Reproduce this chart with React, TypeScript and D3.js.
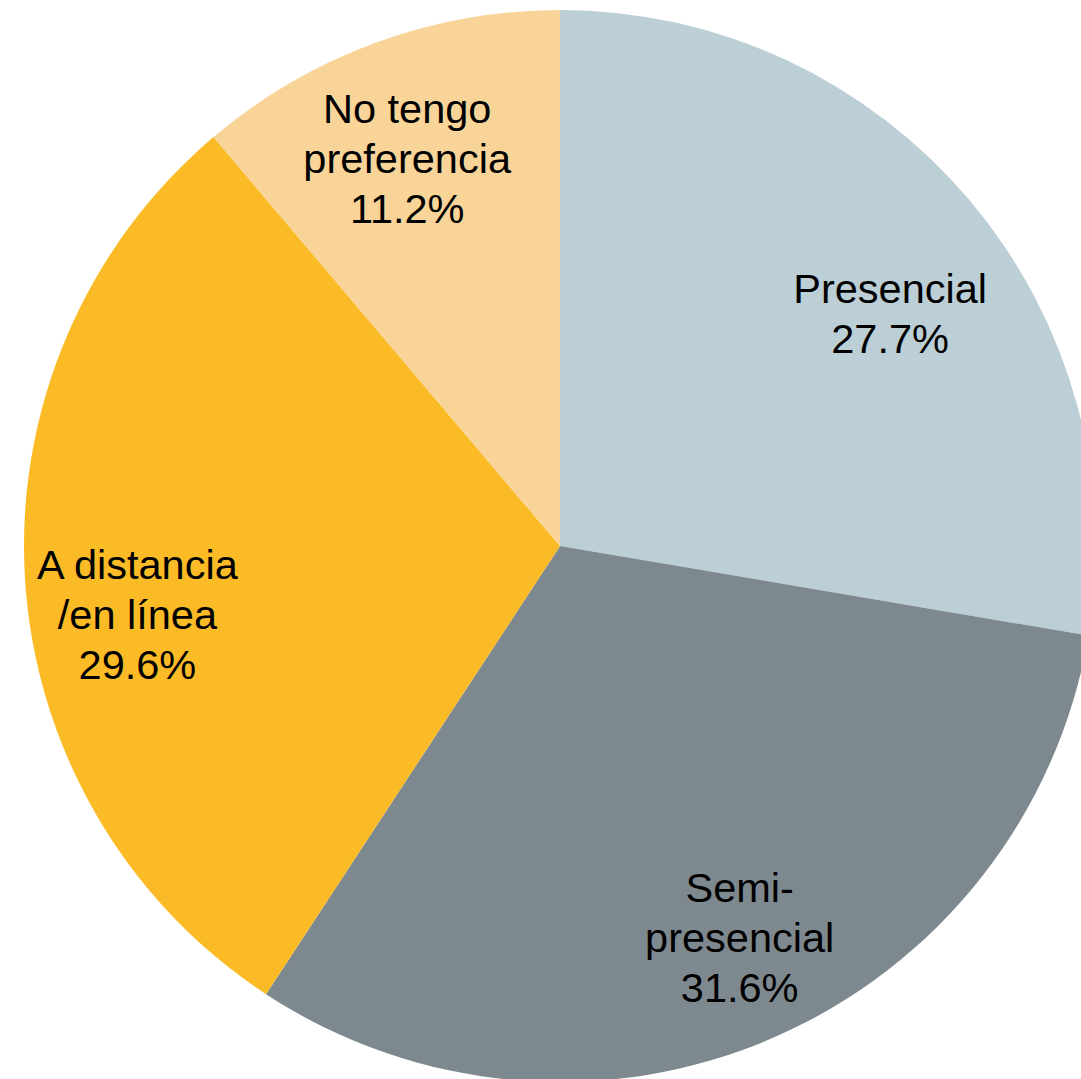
import React from "react";
import * as d3 from "d3";

const categories = ["Presencial", "Semi-presencial", "A distancia /en línea", "No tengo preferencia"];
const values = [27.7, 31.6, 29.6, 11.2];
const labelLines = [["Presencial"], ["Semi-", "presencial"], ["A distancia", "/en línea"], ["No tengo", "preferencia"]];
const colors = ["#bdcfd6", "#7e898f", "#fbbb27", "#f9d498"];

// label placement (angle in degrees from 12 o'clock, radius in px)
const labelLayout = [
  { angle: 54.8, r: 404 },
  { angle: 155.3, r: 430 },
  { angle: 260.9, r: 428 },
  { angle: 338.5, r: 417 },
];

const W = 1081;
const H = 1079;
const CX = 560;
const CY = 546;
const R = 536;
const FONT = 41.5;
const LINE = 50;

export default function App() {
  const data = categories.map((c, i) => ({ c, v: values[i], i }));
  const pie = d3.pie<any>().value((d) => d.v).sort(null);
  const arcs = pie(data);
  const arc = d3.arc<any>().innerRadius(0).outerRadius(R);
  return (
    <svg
      width={W}
      height={H}
      style={{ position: "fixed", left: 0, top: 0, background: "#fff" }}
      viewBox={`0 0 ${W} ${H}`}
    >
      <rect width={W} height={H} fill="#fff" />
      <g transform={`translate(${CX},${CY})`}>
        {arcs.map((a, i) => (
          <path key={i} d={arc(a) as string} fill={colors[i]} />
        ))}
        {arcs.map((a, i) => {
          const lay = labelLayout[i];
          const ang = (lay.angle * Math.PI) / 180;
          const x = lay.r * Math.sin(ang);
          const y = -lay.r * Math.cos(ang);
          const lines = [...labelLines[i], `${values[i].toFixed(1)}%`];
          const n = lines.length;
          return (
            <text
              key={i}
              textAnchor="middle"
              fontFamily="Liberation Sans, Arial, sans-serif"
              fontSize={FONT}
              fill="#000"
            >
              {lines.map((l, k) => (
                <tspan key={k} x={x} y={y + (k - (n - 1) / 2) * LINE + FONT * 0.36}>
                  {l}
                </tspan>
              ))}
            </text>
          );
        })}
      </g>
    </svg>
  );
}
